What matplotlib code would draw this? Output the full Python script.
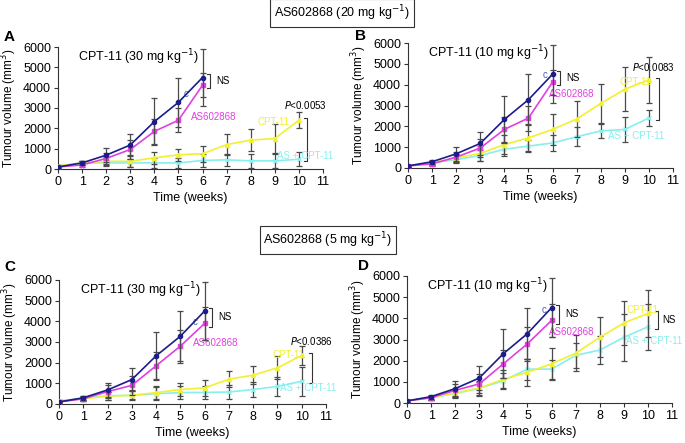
import matplotlib
matplotlib.use("Agg")
import matplotlib.pyplot as plt
import numpy as np

plt.rcParams['font.family'] = ['Liberation Sans', 'DejaVu Sans']

weeks_ctrl = [0, 1, 2, 3, 4, 5, 6]
weeks_cpt = [0, 1, 2, 3, 4, 5, 6, 7, 8, 9, 10]

control = [100, 300, 680, 1180, 2330, 3280, 4500]
control_err = [50, 100, 350, 550, 1150, 1220, 1400]

as20 = [100, 200, 520, 960, 1850, 2400, 4120]
as20_err = [50, 100, 250, 450, 600, 600, 600]
as5 = [100, 250, 600, 900, 1850, 2800, 3900]
as5_err = [50, 100, 300, 450, 650, 800, 800]

cpt_A = [150, 300, 380, 380, 550, 700, 750, 1200, 1420, 1500, 2400]
cpt_A_err = [50, 100, 200, 300, 300, 300, 400, 500, 550, 700, 400]
combo_A = [150, 300, 300, 300, 300, 300, 420, 450, 400, 400, 480]
combo_A_err = [50, 100, 150, 200, 250, 250, 300, 300, 350, 350, 350]

cpt_B = [100, 250, 480, 700, 1120, 1450, 1850, 2350, 3100, 3780, 4230]
cpt_B_err = [50, 100, 200, 350, 450, 650, 750, 850, 950, 1050, 1100]
combo_B = [100, 250, 400, 600, 900, 1050, 1200, 1500, 1780, 1850, 2400]
combo_B_err = [50, 100, 150, 250, 300, 300, 400, 450, 350, 600, 380]

cpt_C = [150, 250, 380, 420, 550, 700, 780, 1200, 1400, 1750, 2350]
cpt_C_err = [50, 100, 200, 250, 300, 300, 400, 400, 450, 550, 450]
combo_C = [150, 280, 400, 420, 500, 550, 560, 580, 700, 850, 1100]
combo_C_err = [50, 100, 200, 200, 300, 300, 300, 350, 350, 450, 700]

cpt_D = [100, 250, 480, 700, 1120, 1450, 1850, 2350, 3100, 3780, 4230]
cpt_D_err = [50, 100, 200, 350, 450, 650, 750, 850, 950, 1050, 1100]
combo_D = [100, 250, 450, 700, 1050, 1600, 1600, 2250, 2500, 3100, 3600]
combo_D_err = [50, 100, 200, 300, 350, 500, 450, 600, 650, 1100, 1100]

xticks = list(range(0, 12))
yticks = [0, 1000, 2000, 3000, 4000, 5000, 6000]

C_CTRL = '#1c1c8a'
C_AS = '#e040e0'
C_CPT = '#f2f030'
C_COMBO = '#88eeee'
C_ERR = '#4a4a4a'

fig = plt.figure(figsize=(6.85, 4.43), dpi=100)

W, H = 685, 443
def ax_at(l, r, top, bot):
    return fig.add_axes([l / W, 1 - bot / H, (r - l) / W, (bot - top) / H])

panels = [
    dict(box=(58, 323, 47, 169), letter='A', lpos=(4, 37), dose='30',
         asv=as20, ase=as20_err, cpt=cpt_A, cpte=cpt_A_err, cmb=combo_A, cmbe=combo_A_err,
         c=(5.2, 3700), asl=(5.5, 2550), cptl=(8.3, 2330), cmbl=(9.1, 620),
         p='0.0053', pl=(9.4, 3150), br=(10.2, 480, 2400)),
    dict(box=(408, 673, 43, 168), letter='B', lpos=(355, 36), dose='10',
         asv=as20, ase=as20_err, cpt=cpt_B, cpte=cpt_B_err, cmb=combo_B, cmbe=combo_B_err,
         c=(5.6, 4450), asl=(5.85, 3550), cptl=(8.8, 4150), cmbl=(8.3, 1550),
         p='0.0083', pl=(9.3, 4850), br=(10.3, 2400, 4230)),
    dict(box=(59, 326, 280, 404), letter='C', lpos=(4, 267), dose='30',
         asv=as5, ase=as5_err, cpt=cpt_C, cpte=cpt_C_err, cmb=combo_C, cmbe=combo_C_err,
         c=(5.5, 3950), asl=(5.5, 2950), cptl=(8.8, 2350), cmbl=(9.1, 780),
         p='0.0386', pl=(9.5, 3050), br=(10.3, 1100, 2350)),
    dict(box=(407, 672, 276, 403), letter='D', lpos=(358, 266), dose='10',
         asv=as5, ase=as5_err, cpt=cpt_D, cpte=cpt_D_err, cmb=combo_D, cmbe=combo_D_err,
         c=(5.6, 4400), asl=(5.9, 3350), cptl=(9.1, 4400), cmbl=(9.1, 2950),
         p=None, pl=None, br=(10.3, 3600, 4230)),
]

for P in panels:
    l, r, t, b = P['box']
    ax = ax_at(l, r, t, b)
    ekw = dict(ecolor=C_ERR, elinewidth=0.9, capsize=2.5, capthick=0.9)
    ax.errorbar(weeks_cpt, P['cmb'], yerr=P['cmbe'], color=C_COMBO, marker='x', ms=3, lw=1.2, **ekw, zorder=2)
    ax.errorbar(weeks_cpt, P['cpt'], yerr=P['cpte'], color=C_CPT, marker='^', ms=3, lw=1.2, **ekw, zorder=3)
    ax.errorbar(weeks_ctrl, P['asv'], yerr=P['ase'], color=C_AS, marker='s', ms=3, lw=1.2, **ekw, zorder=4)
    ax.errorbar(weeks_ctrl, control, yerr=control_err, color=C_CTRL, marker='o', ms=3, lw=1.2, **ekw, zorder=5)
    ax.set_xlim(0, 11)
    ax.set_ylim(0, 6000)
    ax.set_xticks(xticks)
    ax.set_yticks(yticks)
    ax.spines['top'].set_visible(False)
    ax.spines['right'].set_visible(False)
    ax.spines['left'].set_color('#333333')
    ax.spines['bottom'].set_color('#333333')
    ax.tick_params(direction='out', length=3, width=0.8, labelsize=9, color='#333333', pad=2)
    ax.set_xlabel('Time (weeks)', fontsize=9, labelpad=3)
    ax.set_ylabel('Tumour volume (mm$^3$)', fontsize=8.5, labelpad=3)
    ax.text(0.85, 5500, 'CPT-11 (%s mg kg$^{-1}$)' % P['dose'], fontsize=9, va='center')
    ax.text(*P['c'], 'c', color='#4a5fb0', fontsize=7, va='center')
    ax.text(*P['asl'], 'AS602868', color=C_AS, fontsize=7, va='center')
    ax.text(*P['cptl'], 'CPT-11', color=C_CPT, fontsize=7, va='center')
    ax.text(*P['cmbl'], 'AS + CPT-11', color=C_COMBO, fontsize=7, va='center')
    # NS bracket at week 6
    ys = (P['asv'][-1], control[-1])
    bx = 6.2
    ax.plot([bx, bx + 0.12, bx + 0.12, bx], [ys[1] + 150, ys[1] + 150, ys[0] - 150, ys[0] - 150],
            color='#333333', lw=0.8, clip_on=False)
    ax.text(bx + 0.35, np.mean(ys), 'NS', fontsize=7, va='center')
    # bracket at week 10
    x0, y0, y1 = P['br']
    ax.plot([x0, x0 + 0.12, x0 + 0.12, x0], [y1 + 100, y1 + 100, y0 - 100, y0 - 100],
            color='#333333', lw=0.8, clip_on=False)
    if P['p']:
        ax.text(*P['pl'], '$P$<' + P['p'], fontsize=7, va='center')
    else:
        ax.text(x0 + 0.3, (y0 + y1) / 2, 'NS', fontsize=7, va='center')
    fig.text(P['lpos'][0] / W, 1 - P['lpos'][1] / H, P['letter'], fontsize=11, fontweight='bold', va='center')

boxkw = dict(boxstyle='square,pad=0.3', fc='white', ec='#333333', lw=0.8)
fig.text(342 / W, 1 - 13 / H, 'AS602868 (20 mg kg$^{-1}$)', fontsize=9, ha='center', va='center', bbox=boxkw)
fig.text(328 / W, 1 - 240 / H, 'AS602868 (5 mg kg$^{-1}$)', fontsize=9, ha='center', va='center', bbox=boxkw)

fig.savefig('out.png', dpi=100)
